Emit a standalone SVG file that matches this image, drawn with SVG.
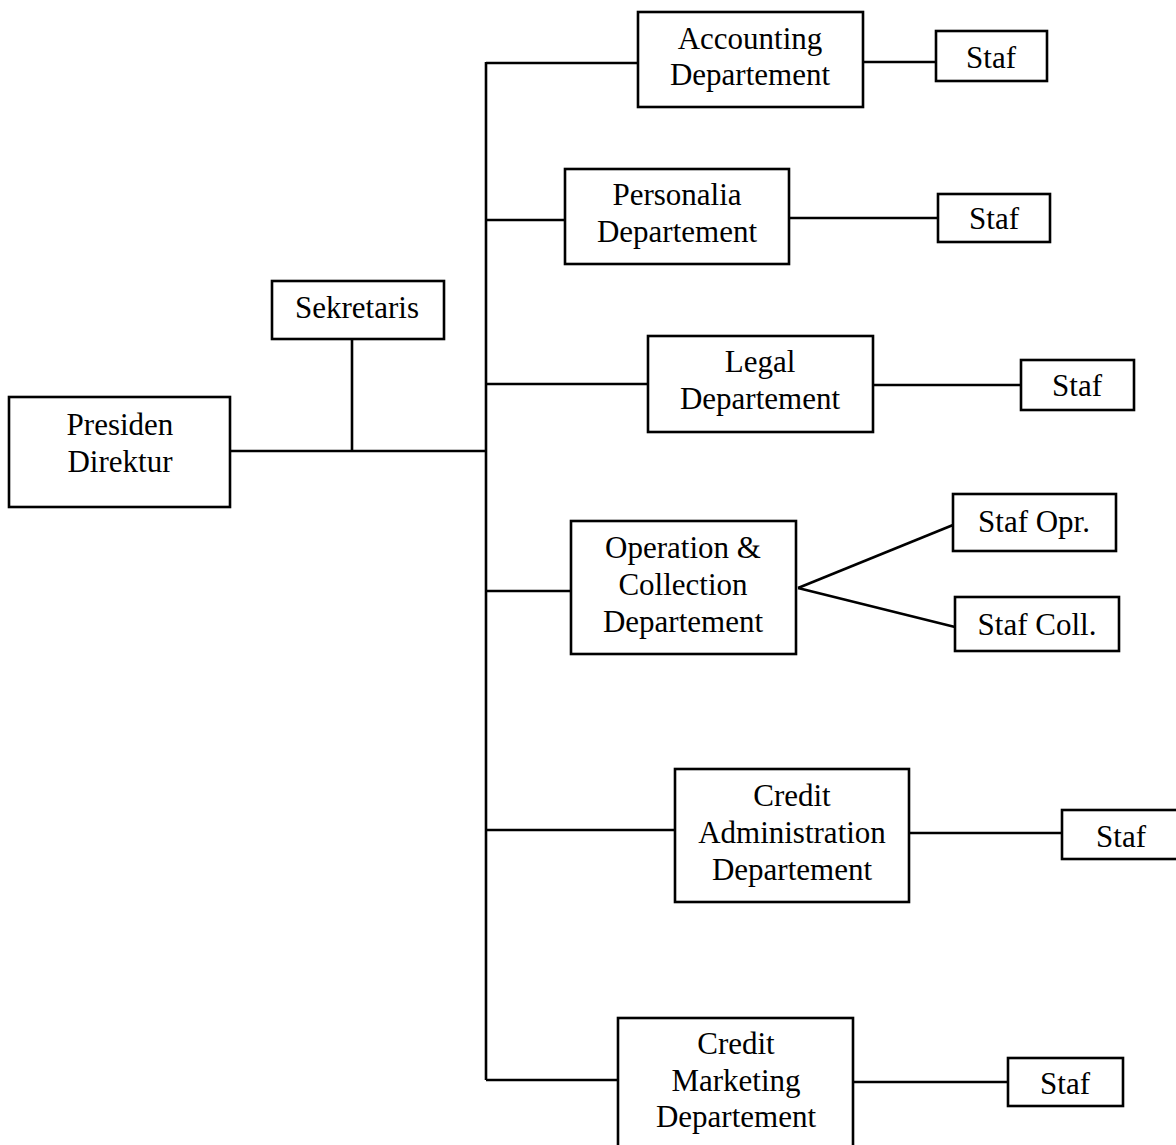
<svg xmlns="http://www.w3.org/2000/svg" width="1176" height="1145" viewBox="0 0 1176 1145">
<style>
.box{fill:#fff;stroke:#000;stroke-width:2.6}
.ln{stroke:#000;stroke-width:2.6;fill:none}
text{font-family:"Liberation Serif","Times New Roman",serif;font-size:31px;fill:#000;text-anchor:middle}
</style>
<rect width="1176" height="1145" fill="#fff"/>
<g id="connectors">
<line class="ln" x1="230" y1="451" x2="486" y2="451"/>
<line class="ln" x1="352" y1="339" x2="352" y2="451"/>
<line class="ln" x1="486" y1="62" x2="486" y2="1080"/>
<line class="ln" x1="486" y1="63" x2="638" y2="63"/>
<line class="ln" x1="863" y1="62" x2="936" y2="62"/>
<line class="ln" x1="486" y1="220" x2="565" y2="220"/>
<line class="ln" x1="789" y1="218" x2="938" y2="218"/>
<line class="ln" x1="486" y1="384" x2="648" y2="384"/>
<line class="ln" x1="873" y1="385" x2="1021" y2="385"/>
<line class="ln" x1="486" y1="591" x2="571" y2="591"/>
<line class="ln" x1="798" y1="588" x2="953" y2="525"/>
<line class="ln" x1="798" y1="588" x2="955" y2="627"/>
<line class="ln" x1="486" y1="830" x2="675" y2="830"/>
<line class="ln" x1="909" y1="833" x2="1062" y2="833"/>
<line class="ln" x1="486" y1="1080" x2="618" y2="1080"/>
<line class="ln" x1="853" y1="1082" x2="1008" y2="1082"/>
</g>
<g id="presiden">
<rect class="box" x="9" y="397" width="221" height="110"/>
<text x="120" y="435">Presiden</text>
<text x="120" y="472">Direktur</text>
</g>
<g id="sekretaris">
<rect class="box" x="272" y="281" width="172" height="58"/>
<text x="357" y="318">Sekretaris</text>
</g>
<g id="accounting">
<rect class="box" x="638" y="12" width="225" height="95"/>
<text x="750" y="49">Accounting</text>
<text x="750" y="85">Departement</text>
</g>
<g id="staf-accounting">
<rect class="box" x="936" y="31" width="111" height="50"/>
<text x="991" y="68">Staf</text>
</g>
<g id="personalia">
<rect class="box" x="565" y="169" width="224" height="95"/>
<text x="677" y="205">Personalia</text>
<text x="677" y="242">Departement</text>
</g>
<g id="staf-personalia">
<rect class="box" x="938" y="194" width="112" height="48"/>
<text x="994" y="229">Staf</text>
</g>
<g id="legal">
<rect class="box" x="648" y="336" width="225" height="96"/>
<text x="760" y="372">Legal</text>
<text x="760" y="409">Departement</text>
</g>
<g id="staf-legal">
<rect class="box" x="1021" y="360" width="113" height="50"/>
<text x="1077" y="396">Staf</text>
</g>
<g id="operation">
<rect class="box" x="571" y="521" width="225" height="133"/>
<text x="683" y="558">Operation &amp;</text>
<text x="683" y="595">Collection</text>
<text x="683" y="632">Departement</text>
</g>
<g id="staf-opr">
<rect class="box" x="953" y="494" width="163" height="57"/>
<text x="1034" y="532">Staf Opr.</text>
</g>
<g id="staf-coll">
<rect class="box" x="955" y="597" width="164" height="54"/>
<text x="1037" y="635">Staf Coll.</text>
</g>
<g id="credit-admin">
<rect class="box" x="675" y="769" width="234" height="133"/>
<text x="792" y="806">Credit</text>
<text x="792" y="843">Administration</text>
<text x="792" y="880">Departement</text>
</g>
<g id="staf-credit-admin">
<rect class="box" x="1062" y="810" width="120" height="49"/>
<text x="1121" y="847">Staf</text>
</g>
<g id="credit-marketing">
<rect class="box" x="618" y="1018" width="235" height="135"/>
<text x="736" y="1054">Credit</text>
<text x="736" y="1091">Marketing</text>
<text x="736" y="1127">Departement</text>
</g>
<g id="staf-credit-marketing">
<rect class="box" x="1008" y="1058" width="115" height="48"/>
<text x="1065" y="1094">Staf</text>
</g>
</svg>
